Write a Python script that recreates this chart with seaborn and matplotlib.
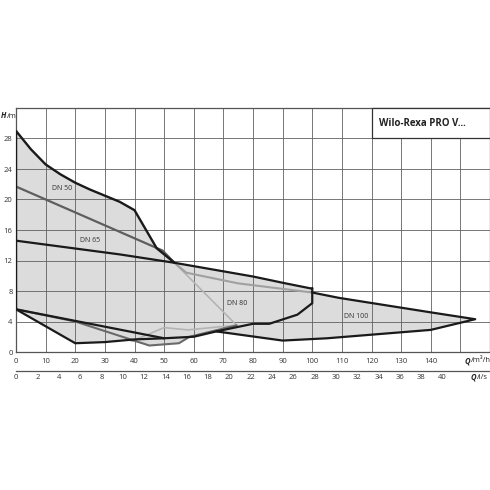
import matplotlib
matplotlib.use("Agg")
import matplotlib.pyplot as plt
from matplotlib.patches import Rectangle
import seaborn as sns
import pandas as pd

# ---- data (Q in m3/h, H in m) ----
dn50_top_q = [0, 0, 2.5, 5, 10, 15, 20, 25, 30, 35, 40, 47.5, 53.5]
dn50_top_h = [5.6, 29.0, 27.8, 26.6, 24.6, 23.3, 22.2, 21.3, 20.5, 19.7, 18.6, 13.6, 11.7]

dn50_inner_q = [0, 49.5, 53.5]
dn50_inner_h = [21.7, 13.3, 11.7]

dn65_q = [0, 35, 53.5, 80, 91, 100]
dn65_h = [14.6, 12.8, 11.7, 9.9, 9.0, 8.3]

dn80_top_q = [53.5, 57.5, 75, 100]
dn80_top_h = [11.7, 10.4, 9.0, 7.8]

dn80_drop_q = [53.5, 74.5, 66, 58, 50, 39]
dn80_drop_h = [11.7, 3.5, 3.2, 2.9, 3.2, 1.4]

dn80_bottom_q = [0, 20, 30, 40, 50, 60, 67.6, 80, 85.5, 95, 100, 100]
dn80_bottom_h = [5.6, 1.15, 1.3, 1.65, 1.8, 2.0, 2.7, 3.7, 3.7, 4.9, 6.4, 8.4]

dn65_bottom_q = [0, 50]
dn65_bottom_h = [5.6, 1.8]

dn100_q = [67.6, 90, 105, 140, 155, 140, 109, 100]
dn100_h = [2.7, 1.5, 1.8, 2.9, 4.3, 5.2, 7.1, 7.8]

low_gray_q = [0, 20, 45, 55, 58.6, 74.5]
low_gray_h = [5.6, 4.0, 0.85, 1.15, 2.0, 3.5]

# outer outline of the whole shaded range
outline_q = [0, 0, 2.5, 5, 10, 15, 20, 25, 30, 35, 40, 47.5, 53.5, 80, 91, 100, 100,
             109, 140, 155, 140, 105, 90, 67.6, 60, 57.5, 55, 45, 37, 30, 20, 0]
outline_h = [5.6, 29.0, 27.8, 26.6, 24.6, 23.3, 22.2, 21.3, 20.5, 19.7, 18.6, 13.6, 11.7,
             9.9, 9.0, 8.3, 7.8, 7.1, 5.2, 4.3, 2.9, 1.8, 1.5, 2.7, 2.0, 1.75, 1.15, 0.85,
             1.55, 1.3, 1.15, 5.6]

region_labels = ["DN 50", "DN 65", "DN 80", "DN 100"]
label_q = [15.5, 24.9, 74.7, 114.8]
label_h = [21.4, 14.6, 6.4, 4.7]

q_ticks = list(range(0, 160, 10))
h_ticks = list(range(0, 32, 4))
ls_ticks = list(range(0, 42, 2))

title = "Wilo-Rexa PRO V..."

# ---- plotting ----
sns.set_theme(style="white")
plt.rcParams["font.family"] = ["Open Sans", "DejaVu Sans"]

fig = plt.figure(figsize=(4.9, 4.9), dpi=100)
ax = fig.add_axes([16 / 490, 138 / 490, 474 / 490, 244 / 490])

ax.fill(outline_q, outline_h, color="#dcdcdc", lw=0, zorder=0.2)

lines = [
    (dn80_drop_q, dn80_drop_h, "#b4b4b4", 1.2),
    (low_gray_q, low_gray_h, "#6a6a6a", 1.5),
    (dn80_top_q, dn80_top_h, "#a0a0a0", 1.5),
    (dn50_inner_q, dn50_inner_h, "#5e5e5e", 1.6),
    (dn65_bottom_q, dn65_bottom_h, "#1a1a1a", 1.6),
    (dn80_bottom_q, dn80_bottom_h, "#1a1a1a", 1.6),
    (dn100_q, dn100_h, "#1a1a1a", 1.6),
    (dn65_q, dn65_h, "#1a1a1a", 1.6),
    (dn50_top_q, dn50_top_h, "#1a1a1a", 1.7),
]
for q, h, c, w in lines:
    df = pd.DataFrame({"Q": q, "H": h})
    sns.lineplot(data=df, x="Q", y="H", sort=False, estimator=None,
                 color=c, lw=w, ax=ax, zorder=3)

for txt, q, h in zip(region_labels, label_q, label_h):
    ax.text(q, h, txt, fontsize=5, color="#333333", ha="center", va="center", zorder=4)

ax.set_xlim(0, 160)
ax.set_ylim(0, 32)
ax.set_xticks(q_ticks)
ax.set_xticklabels([str(t) for t in q_ticks[:-1]] + [""])
ax.set_yticks(h_ticks)
ax.set_xlabel("")
ax.set_ylabel("")
ax.set_axisbelow(True)
ax.grid(True, color="#606060", lw=0.6)
ax.tick_params(axis="both", length=0, labelsize=5.5, labelcolor="#333333")
ax.tick_params(axis="x", pad=4)
ax.tick_params(axis="y", pad=2.5)
for s in ax.spines.values():
    s.set_color("#555555")
    s.set_linewidth(0.9)

# title box
ax.add_patch(Rectangle((120, 28), 40, 4, facecolor="white", edgecolor="#333333",
                       lw=0.9, zorder=5, clip_on=False))
ax.text(122.5, 30, title, fontsize=7, fontweight="bold", color="#222222",
        ha="left", va="center", zorder=6)

# second axis in l/s
sec = ax.secondary_xaxis(-0.078, functions=(lambda x: x / 3.6, lambda x: x * 3.6))
sec.set_xticks(ls_ticks)
sec.tick_params(length=0, labelsize=5.5, labelcolor="#333333", pad=2)
sec.spines["bottom"].set_color("#555555")
sec.spines["bottom"].set_linewidth(0.9)

# axis unit labels
def ftext(px, py, s, **kw):
    fig.text(px / 490, 1 - py / 490, s, fontsize=5.5, color="#222222", va="center", **kw)

ftext(1, 116, "H", fontweight="bold", style="italic")
ftext(6.5, 116, "/m")
ftext(465, 361, "Q", fontweight="bold", style="italic")
ftext(471, 361, "/m³/h")
ftext(471, 377, "Q", fontweight="bold", style="italic")
ftext(477, 377, "/l/s")

fig.savefig("out.png", dpi=100)
